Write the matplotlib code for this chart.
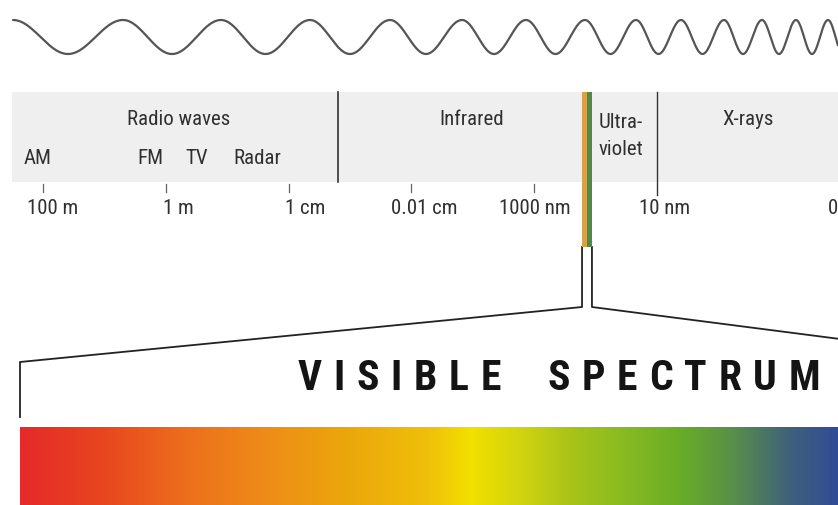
import os
import numpy as np
import matplotlib
matplotlib.use('Agg')
import matplotlib.pyplot as plt
from matplotlib import font_manager
from matplotlib.font_manager import FontProperties
from matplotlib.colors import LinearSegmentedColormap
from matplotlib.patches import Rectangle

# --- data ---
band_names = ['Radio waves', 'Infrared', 'Ultra-\nviolet', 'X-rays']
radio_uses = ['AM', 'FM', 'TV', 'Radar']
tick_labels = ['100 m', '1 m', '1 cm', '0.01 cm', '1000 nm', '10 nm', '0.01 nm']
tick_wavelengths = [100, 1, 1e-2, 1e-4, 1e-6, 1e-8, 1e-11]   # metres
band_edges = [1.57e-3, 1.64e-7, 1.36e-7, 1.13e-7, 1.0e-8]    # radio|IR, IR|vis, vis mid, vis|UV, UV|X
wave_peaks = [13, 123, 221, 310, 390, 462, 526, 585, 636, 681, 724, 762, 796, 828, 858]
spectrum_pos = [0.0, 0.10, 0.20, 0.30, 0.38, 0.50, 0.55, 0.61, 0.67, 0.73, 0.81, 0.87, 0.94, 1.0]
spectrum_colors = ['#e52a2a', '#e8461f', '#ec6e1c', '#ee8c18', '#eba20c', '#efc00a',
                   '#f2e000', '#d2d40e', '#aac418', '#8cbc20', '#66ac28', '#5a9048',
                   '#40627a', '#304c96']
title_words = ['VISIBLE', 'SPECTRUM']


def condensed_font(bold):
    # look for a narrow / condensed face among installed fonts
    prefs = ['notosans-condensed', 'opensans-condensed', 'opensans_condensed',
             'robotocondensed', 'roboto_condensed', 'liberationsansnarrow',
             'dejavusanscondensed', 'lato']
    files = [f.fname for f in font_manager.fontManager.ttflist]
    for key in prefs:
        for fn in files:
            base = os.path.basename(fn).lower().replace(' ', '')
            if key not in base or 'italic' in base or 'oblique' in base:
                continue
            is_bold = 'bold' in base and 'semibold' not in base and 'extrabold' not in base
            if key == 'lato' and 'condensed' not in base:
                continue
            if is_bold == bold:
                if not bold and any(w in base for w in ('light', 'thin', 'medium', 'black', 'semi', 'extra')):
                    continue
                return FontProperties(fname=fn)
    return FontProperties(family='Liberation Sans', weight='bold' if bold else 'normal')


fp_reg = condensed_font(False)
fp_bold = condensed_font(True)
txt = '#303030'

W, H = 838, 506
fig = plt.figure(figsize=(W / 100, H / 100), dpi=100)
ax = fig.add_axes([0, 0, 1, 1])
ax.set_xlim(0, W)
ax.set_ylim(H, 0)
ax.axis('off')

# wavelength axis (log, decreasing to the right) on top of the pixel axis
axw = fig.add_axes([0, 0, 1, 1])
axw.set_xscale('log')
axw.set_xlim(10 ** 2.7096, 10 ** -10.9608)
axw.set_ylim(H, 0)
axw.axis('off')
axw.patch.set_alpha(0)


def wl_to_px(wl):
    disp = axw.transData.transform((wl, 0))
    return ax.transData.inverted().transform(disp)[0]


# chirped wave
xs = np.linspace(wave_peaks[0], W, 1500)
phase = np.interp(xs, wave_peaks, 2 * np.pi * np.arange(len(wave_peaks)))
ax.plot(xs, 38 - 17 * np.cos(phase), color='#555555', lw=1.6, solid_capstyle='round')

# grey band panel
ax.add_patch(Rectangle((12, 93), W - 12, 90, facecolor='#efefef', edgecolor='none'))

# band separators
axw.plot([band_edges[0]] * 2, [93, 183], color='#333333', lw=1.2)
axw.plot([band_edges[4]] * 2, [93, 196], color='#333333', lw=1.0)

# visible strip
axw.fill_betweenx([93, 248], band_edges[1], band_edges[2], color='#d6a24a', lw=0)
axw.fill_betweenx([93, 248], band_edges[2], band_edges[3], color='#4e8a48', lw=0)

# zoom outline down to the visible spectrum
xl, xr = wl_to_px(band_edges[1]), wl_to_px(band_edges[3])
ax.plot([xl, xl, 20, 20], [248, 308, 363, 418], color='#222222', lw=1.3)
ax.plot([xr, xr, W + 2], [248, 308, 340], color='#222222', lw=1.3)

# band names
fs = 15
ax.text(179, 119, band_names[0], ha='center', va='center', fontsize=fs, fontproperties=fp_reg, color=txt)
ax.text(472, 119, band_names[1], ha='center', va='center', fontsize=fs, fontproperties=fp_reg, color=txt)
ax.text(599, 136, band_names[2], ha='left', va='center', fontsize=fs, fontproperties=fp_reg,
        color=txt, linespacing=1.5)
ax.text(748, 119, band_names[3], ha='center', va='center', fontsize=fs, fontproperties=fp_reg, color=txt)
for name, x in zip(radio_uses, [38, 150, 197, 257]):
    ax.text(x, 158, name, ha='center', va='center', fontsize=fs, fontproperties=fp_reg, color=txt)

# wavelength ticks and labels
label_dx = [9, 12, 16, 13, 1, 8, -12]
for i, (lab, wl) in enumerate(zip(tick_labels, tick_wavelengths)):
    if i < 5:
        axw.plot([wl, wl], [185, 193], color='#666666', lw=0.9)
    t = axw.annotate(lab, (wl, 208), xytext=(label_dx[i], 0), textcoords='offset pixels',
                     ha='left' if i == 6 else 'center', va='center', color=txt,
                     annotation_clip=False)
    t.set_fontproperties(fp_reg)
    t.set_fontsize(fs)

# title, letter by letter with wide tracking
renderer = fig.canvas.get_renderer()
letters = []
for w, word in enumerate(title_words):
    for c in word:
        t = ax.text(0, 378, c, ha='left', va='center', color='#141414')
        t.set_fontproperties(fp_bold)
        t.set_fontsize(30)
        letters.append((w, t))
widths = [t.get_window_extent(renderer).width for _, t in letters]
x0, x1, word_gap = 298, 820, 47
n_gaps = len(letters) - 2
gap = (x1 - x0 - sum(widths) - word_gap) / n_gaps
x = x0
for k, (w, t) in enumerate(letters):
    if k > 0:
        x += word_gap if letters[k - 1][0] != w else gap
    t.set_x(x)
    x += widths[k]

# visible spectrum gradient
cmap = LinearSegmentedColormap.from_list('vis', list(zip(spectrum_pos, spectrum_colors)))
ax.imshow(np.linspace(0, 1, 512)[None, :], cmap=cmap, aspect='auto',
          extent=(20, W, H, 428), interpolation='bilinear')
ax.set_xlim(0, W)
ax.set_ylim(H, 0)

fig.savefig('out.png', dpi=100)
